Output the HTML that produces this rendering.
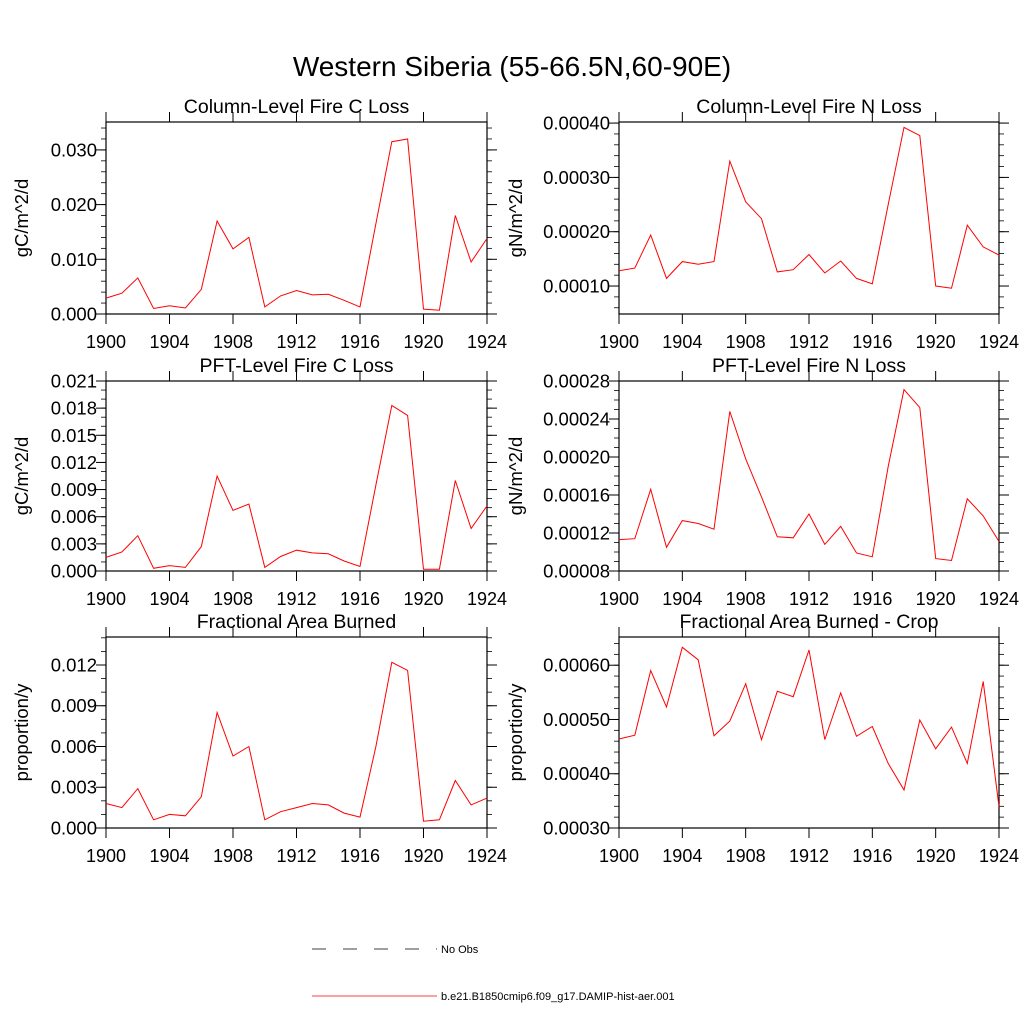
<!DOCTYPE html>
<html><head><meta charset="utf-8">
<style>
html,body{margin:0;padding:0;background:#fff;}
svg{display:block;font-family:"Liberation Sans",sans-serif;}
</style></head>
<body>
<svg id="chart" width="1024" height="1024" viewBox="0 0 1024 1024">
<text x="512" y="76" font-size="28" text-anchor="middle">Western Siberia (55-66.5N,60-90E)</text>
<g id="panels"></g>
<g>
<line x1="312" y1="949" x2="437" y2="949" stroke="#000" stroke-width="0.8" stroke-dasharray="14,17"/>
<text x="441" y="953" font-size="11">No Obs</text>
<line x1="312" y1="996" x2="437" y2="996" stroke="#ff0000" stroke-width="0.8"/>
<text x="441" y="1000" font-size="11">b.e21.B1850cmip6.f09_g17.DAMIP-hist-aer.001</text>
</g>
</svg>
<script>
const years = [1900,1901,1902,1903,1904,1905,1906,1907,1908,1909,1910,1911,1912,1913,1914,1915,1916,1917,1918,1919,1920,1921,1922,1923,1924];
const xTicks = [1900,1904,1908,1912,1916,1920,1924];
const colCLoss = [0.0029,0.0038,0.0066,0.0010,0.0015,0.0011,0.0045,0.0170,0.0119,0.0140,0.0013,0.0033,0.0043,0.0035,0.0036,0.0025,0.0013,0.0165,0.0315,0.0320,0.0009,0.0007,0.0180,0.0095,0.0138];
const colNLoss = [0.000128,0.000133,0.000194,0.000114,0.000145,0.000140,0.000145,0.000330,0.000255,0.000224,0.000126,0.000130,0.000158,0.000124,0.000146,0.000114,0.000104,0.000250,0.000392,0.000377,0.000100,0.000096,0.000212,0.000172,0.000157];
const pftCLoss = [0.0015,0.0021,0.0039,0.0003,0.0006,0.0004,0.0027,0.0105,0.0067,0.0074,0.0004,0.0016,0.0023,0.0020,0.0019,0.0011,0.0005,0.0095,0.0183,0.0172,0.0002,0.0002,0.0100,0.0047,0.0072];
const pftNLoss = [0.000113,0.000114,0.000166,0.000105,0.000133,0.000130,0.000124,0.000248,0.000198,0.000158,0.000116,0.000115,0.000140,0.000108,0.000127,0.000099,0.000095,0.000190,0.000271,0.000252,0.000093,0.000091,0.000156,0.000138,0.000111];
const areaBurned = [0.0018,0.0015,0.0029,0.0006,0.0010,0.0009,0.0023,0.0085,0.0053,0.0060,0.0006,0.0012,0.0015,0.0018,0.0017,0.0011,0.0008,0.0060,0.0122,0.0116,0.0005,0.0006,0.0035,0.0017,0.0022];
const areaBurnedCrop = [0.000464,0.000471,0.000590,0.000523,0.000633,0.000610,0.000470,0.000497,0.000566,0.000463,0.000552,0.000542,0.000628,0.000463,0.000549,0.000469,0.000487,0.000419,0.000370,0.000499,0.000446,0.000486,0.000419,0.000570,0.000339];
const ticks1 = ["0.000","0.010","0.020","0.030"];
const ticks2 = ["0.00010","0.00020","0.00030","0.00040"];
const ticks3 = ["0.000","0.003","0.006","0.009","0.012","0.015","0.018","0.021"];
const ticks4 = ["0.00008","0.00012","0.00016","0.00020","0.00024","0.00028"];
const ticks5 = ["0.000","0.003","0.006","0.009","0.012"];
const ticks6 = ["0.00030","0.00040","0.00050","0.00060"];

const panels = [
 {name:'column-fire-c-loss',title:'Column-Level Fire C Loss',unit:'gC/m^2/d',vals:colCLoss,ticks:ticks1,minor:0.002,x0:106,x1:487,top:122,bot:314,ymin:0,ymax:0.0351,yt:16},
 {name:'column-fire-n-loss',title:'Column-Level Fire N Loss',unit:'gN/m^2/d',vals:colNLoss,ticks:ticks2,minor:0.00002,x0:619,x1:999,top:122,bot:314,ymin:0.0000485,ymax:0.000402,yt:510},
 {name:'pft-fire-c-loss',title:'PFT-Level Fire C Loss',unit:'gC/m^2/d',vals:pftCLoss,ticks:ticks3,minor:0.001,x0:106,x1:487,top:381,bot:571,ymin:0,ymax:0.021,yt:16},
 {name:'pft-fire-n-loss',title:'PFT-Level Fire N Loss',unit:'gN/m^2/d',vals:pftNLoss,ticks:ticks4,minor:0.00001,x0:619,x1:999,top:381,bot:571,ymin:0.00008,ymax:0.00028,yt:510},
 {name:'fractional-area-burned',title:'Fractional Area Burned',unit:'proportion/y',vals:areaBurned,ticks:ticks5,minor:0.001,x0:106,x1:487,top:637,bot:828,ymin:0,ymax:0.01406,yt:16},
 {name:'fractional-area-burned-crop',title:'Fractional Area Burned - Crop',unit:'proportion/y',vals:areaBurnedCrop,ticks:ticks6,minor:0.00002,x0:619,x1:999,top:637,bot:828,ymin:0.0003,ymax:0.000652,yt:510}
];
const NS='http://www.w3.org/2000/svg';
const root=document.getElementById('panels');
function mk(tag,attrs,parent){const e=document.createElementNS(NS,tag);for(const k in attrs)e.setAttribute(k,attrs[k]);parent.appendChild(e);return e;}
panels.forEach(p=>{
  const g=mk('g',{},root);
  
  
  const xs=v=>p.x0+(v-1900)/24*(p.x1-p.x0);
  const ys=v=>p.bot-(v-p.ymin)/(p.ymax-p.ymin)*(p.bot-p.top);
  const fr=mk('rect',{x:p.x0,y:p.top,width:p.x1-p.x0,height:p.bot-p.top,fill:'none',stroke:'#000','stroke-width':1.2},g);
  
  
  const t=mk('text',{x:(p.x0+p.x1)/2,y:p.top-9,'font-size':19.5,'text-anchor':'middle'},g);
  t.textContent=p.title;
  
  
  const cy=(p.top+p.bot)/2, cx=p.yt+6;
  const yt=mk('text',{x:cx,y:cy+6,'font-size':18.5,'text-anchor':'middle',transform:'rotate(-90 '+cx+' '+cy+')'},g);
  yt.textContent=p.unit;
  
  
  xTicks.forEach(v=>{
    const x=xs(v);
    mk('line',{x1:x,y1:p.bot,x2:x,y2:p.bot+10,stroke:'#000','stroke-width':1},g);
    mk('line',{x1:x,y1:p.top,x2:x,y2:p.top-10,stroke:'#000','stroke-width':1},g);
    const l=mk('text',{x:x,y:p.bot+34,'font-size':18,'text-anchor':'middle'},g);
    l.textContent=v;
    
    
  });
  for(let v=Math.ceil(p.ymin/p.minor-1e-6)*p.minor; v<=p.ymax+1e-12; v+=p.minor){
    const y=ys(v);
    mk('line',{x1:p.x0-5,y1:y,x2:p.x0,y2:y,stroke:'#000','stroke-width':0.8},g);
    mk('line',{x1:p.x1,y1:y,x2:p.x1+5,y2:y,stroke:'#000','stroke-width':0.8},g);
  }
  p.ticks.forEach(s=>{
    const y=ys(parseFloat(s));
    mk('line',{x1:p.x0-10,y1:y,x2:p.x0,y2:y,stroke:'#000','stroke-width':1},g);
    mk('line',{x1:p.x1,y1:y,x2:p.x1+10,y2:y,stroke:'#000','stroke-width':1},g);
    const l=mk('text',{x:p.x0-9,y:y+6.5,'font-size':18.5,'text-anchor':'end'},g);
    l.textContent=s;
    
    
  });
  const pts=p.vals.map((v,i)=>xs(years[i]).toFixed(1)+','+ys(v).toFixed(1)).join(' ');
  const line=mk('polyline',{points:pts,fill:'none',stroke:'#ff0000','stroke-width':1},g);
  
  
});
</script>
</body></html>
